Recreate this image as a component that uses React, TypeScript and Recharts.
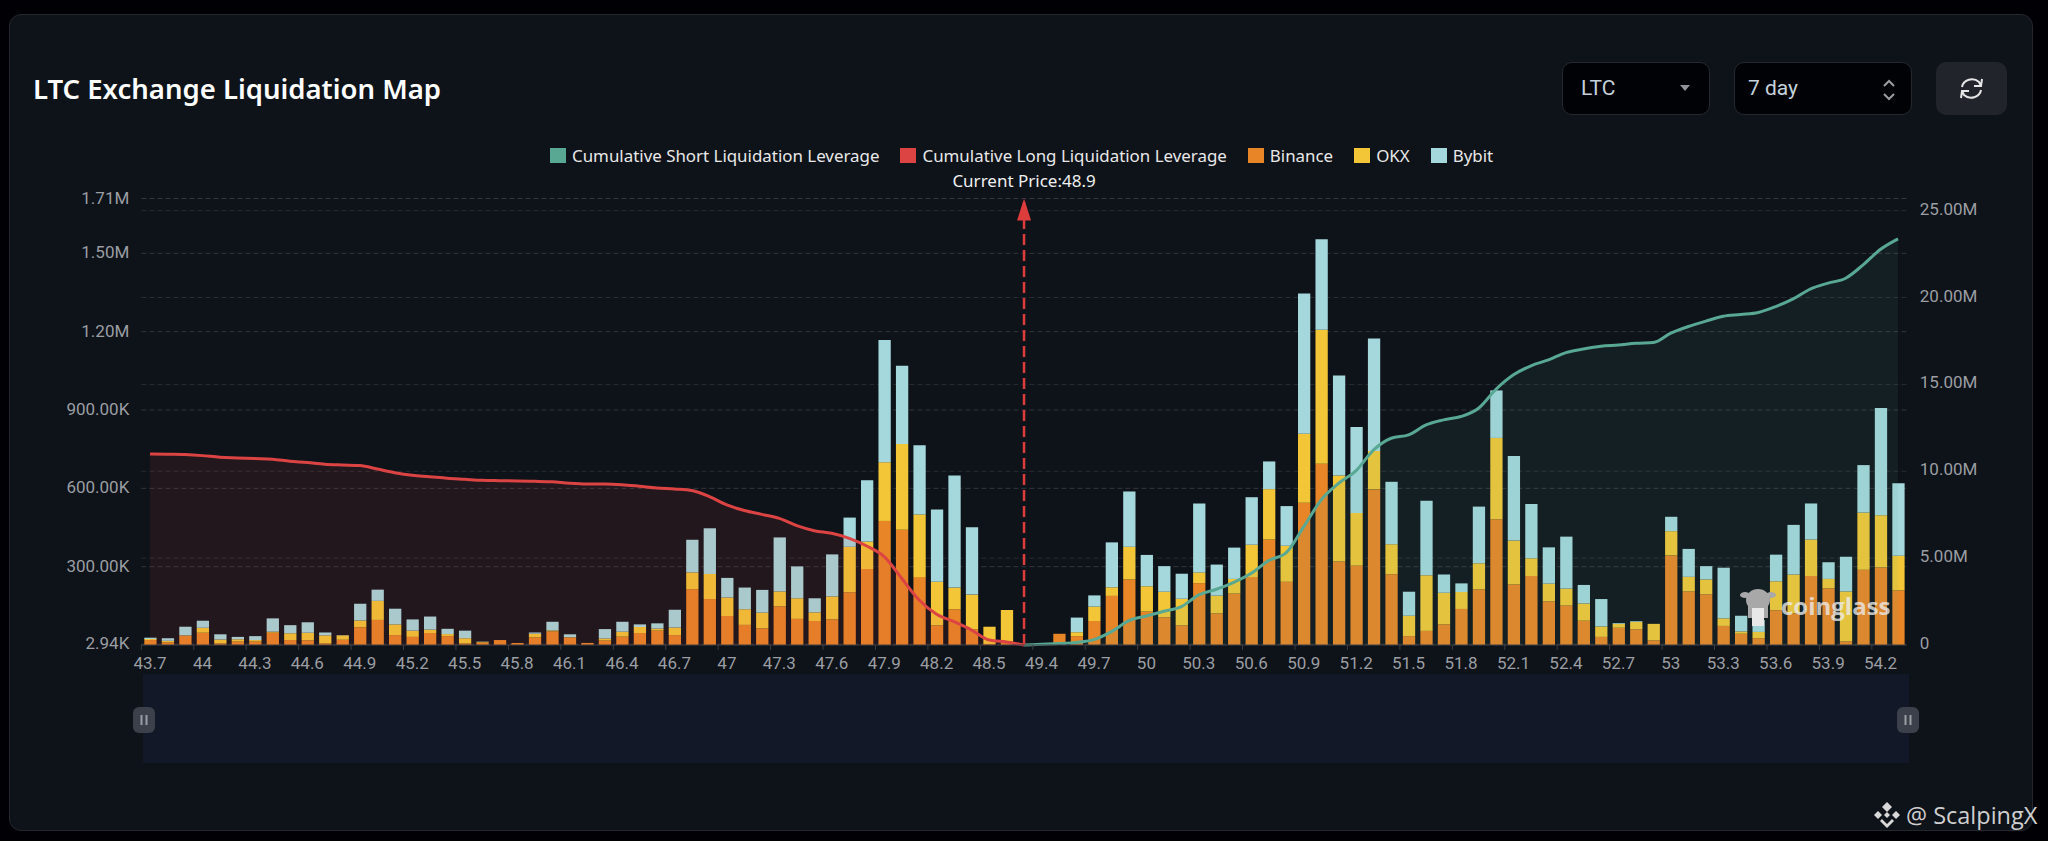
import React from "react";
import {
  ComposedChart,
  Bar,
  Area,
  XAxis,
  YAxis,
  CartesianGrid,
  ReferenceLine,
  Legend,
  Brush,
} from "recharts";

const title = "LTC Exchange Liquidation Map";
const currentPrice = "48.9";

const prices = [
  "43.7","43.8","43.9","44","44.1","44.2","44.3","44.4","44.5","44.6",
  "44.7","44.8","44.9","45","45.1","45.2","45.3","45.4","45.5","45.6",
  "45.7","45.8","45.9","46","46.1","46.2","46.3","46.4","46.5","46.6",
  "46.7","46.8","46.9","47","47.1","47.2","47.3","47.4","47.5","47.6",
  "47.7","47.8","47.9","48","48.1","48.2","48.3","48.4","48.5","48.6",
  "48.9",
  "49.4","49.5","49.6","49.7","49.8","49.9","50","50.1","50.2","50.3",
  "50.4","50.5","50.6","50.7","50.8","50.9","51","51.1","51.2","51.3",
  "51.4","51.5","51.6","51.7","51.8","51.9","52","52.1","52.2","52.3",
  "52.4","52.5","52.6","52.7","52.8","52.9","53","53.1","53.2","53.3",
  "53.4","53.5","53.6","53.7","53.8","53.9","54","54.1","54.2","54.3",
];

// thousands
const binanceK = [
  19,10,36,47,6,13,13,47,19,18,
  6,20,68,96,38,31,46,34,6,9,
  19,8,29,52,29,8,17,32,46,55,
  38,214,176,111,77,64,148,100,92,98,
  202,291,475,441,260,75,137,60,4,13,
  0,0,43,34,92,188,251,128,106,75,
  237,121,197,260,404,242,545,694,320,304,
  596,271,34,54,79,138,213,482,232,264,
  167,151,93,31,66,60,18,343,205,194,
  73,43,26,133,121,264,217,14,288,297,
  209,
];
const okxK = [
  4,6,1,19,15,9,6,4,26,29,
  31,17,26,73,41,24,13,8,20,3,
  0,0,14,4,1,0,8,19,23,8,
  29,64,96,71,60,60,57,79,33,88,
  174,105,225,329,240,167,83,133,66,121,
  0,0,0,15,55,33,125,97,98,102,
  41,68,56,124,193,138,264,513,329,202,
  147,115,78,213,121,65,100,311,168,68,
  68,65,66,40,15,28,63,93,56,57,
  29,9,24,111,149,140,36,191,219,200,
  133,
];
const bybitK = [
  5,10,33,27,20,9,15,51,31,40,
  11,1,64,43,60,43,50,20,29,1,
  0,0,5,33,11,0,36,38,10,20,
  68,125,175,75,83,87,207,122,54,161,
  112,235,468,299,265,277,429,258,0,0,
  0,0,0,56,43,172,212,120,98,96,
  264,119,120,182,106,152,537,347,383,329,
  431,239,92,285,70,33,217,182,324,208,
  139,199,71,105,3,3,0,55,107,51,
  194,60,46,102,190,138,64,133,182,411,
  277,
];

// millions
const cumulativeLongM: (number | null)[] = [
  11.0,10.98,10.96,10.9,10.81,10.77,10.73,10.69,10.58,10.5,
  10.4,10.36,10.33,10.13,9.92,9.77,9.69,9.6,9.54,9.48,
  9.46,9.44,9.42,9.39,9.31,9.27,9.27,9.23,9.14,9.04,
  8.98,8.89,8.54,8.06,7.74,7.52,7.29,6.87,6.58,6.43,
  6.14,5.7,5.09,3.84,2.59,1.77,1.34,0.86,0.29,0.17,
  0,
  null,null,null,null,null,null,null,null,null,null,
  null,null,null,null,null,null,null,null,null,null,
  null,null,null,null,null,null,null,null,null,null,
  null,null,null,null,null,null,null,null,null,null,
  null,null,null,null,null,null,null,null,null,null,
];
const cumulativeShortM: (number | null)[] = [
  null,null,null,null,null,null,null,null,null,null,
  null,null,null,null,null,null,null,null,null,null,
  null,null,null,null,null,null,null,null,null,null,
  null,null,null,null,null,null,null,null,null,null,
  null,null,null,null,null,null,null,null,null,null,
  0,
  0.04,0.08,0.15,0.31,0.77,1.4,1.67,1.94,2.21,2.88,
  3.21,3.61,4.13,4.86,5.32,6.81,8.35,9.31,10.04,11.23,
  11.9,12.09,12.67,12.96,13.15,13.63,14.72,15.55,16.07,16.41,
  16.83,17.04,17.2,17.27,17.37,17.41,17.95,18.33,18.64,18.92,
  19.02,19.14,19.48,19.92,20.5,20.83,21.11,21.88,22.78,23.38,
];

const leftTicks = [2940, 300000, 600000, 900000, 1200000, 1500000, 1710000];
const rightTicks = [0, 5000000, 10000000, 15000000, 20000000, 25000000];

const legendItems = [
  { label: "Cumulative Short Liquidation Leverage", color: "#58a893" },
  { label: "Cumulative Long Liquidation Leverage", color: "#dc4444" },
  { label: "Binance", color: "#e88526" },
  { label: "OKX", color: "#f2c636" },
  { label: "Bybit", color: "#a5d8dc" },
];

const COLORS = {
  short: "#58a893",
  long: "#dc4444",
  binance: "#e88526",
  okx: "#f2c636",
  bybit: "#a5d8dc",
};

const table = prices.map((price, i) => ({
  price,
  binance: binanceK[i] * 1000,
  okx: okxK[i] * 1000,
  bybit: bybitK[i] * 1000,
  long: cumulativeLongM[i] === null ? null : (cumulativeLongM[i] as number) * 1e6,
  short: cumulativeShortM[i] === null ? null : (cumulativeShortM[i] as number) * 1e6,
}));

const AXIS_FONT = "Roboto, sans-serif";
const UI_FONT = "'Noto Sans', sans-serif";

const fmtLeft = (v: number) =>
  v >= 1e6 ? (v / 1e6).toFixed(2) + "M" : (v / 1e3).toFixed(2) + "K";
const fmtRight = (v: number) => (v === 0 ? "0" : (v / 1e6).toFixed(2) + "M");

const PriceTick = (props: any) => {
  const { x, y, payload } = props;
  return (
    <g>
      <line x1={x - 8.74} x2={x - 8.74} y1={y} y2={y + 5} stroke="#3a3d44" />
      <text
        x={x}
        y={y + 18}
        textAnchor="middle"
        dominantBaseline="central"
        fill="#9b9ea3"
        fontFamily={AXIS_FONT}
        fontSize={17}
      >
        {payload.value}
      </text>
    </g>
  );
};

const CurrentPriceLabel = (props: any) => {
  const { x, y } = props.viewBox;
  return (
    <g>
      <polygon points={`${x},${y} ${x - 7},${y + 22} ${x + 7},${y + 22}`} fill="#dc3c3c" />
      <text
        x={x}
        y={y - 18}
        textAnchor="middle"
        dominantBaseline="central"
        fill="#f0f0f0"
        fontFamily={UI_FONT}
        fontSize={17}
      >
        {`Current Price:${currentPrice}`}
      </text>
    </g>
  );
};

const Handle = (props: any) => {
  const cx = props.x + props.width / 2;
  const cy = 720;
  return (
    <g>
      <rect x={cx - 11} y={cy - 13} width={22} height={26} rx={6} fill="#3b404a" />
      <rect x={cx - 3.5} y={cy - 5} width={2} height={10} fill="#9a9da3" />
      <rect x={cx + 1.5} y={cy - 5} width={2} height={10} fill="#9a9da3" />
    </g>
  );
};

const LegendContent = () => (
  <div
    style={{
      position: "absolute",
      left: 550,
      top: 0,
      display: "flex",
      alignItems: "center",
      whiteSpace: "nowrap",
      fontFamily: UI_FONT,
      fontSize: 16.9,
      color: "#e8e8e8",
      height: 0,
    }}
  >
    {legendItems.map((it) => (
      <span key={it.label} style={{ display: "flex", alignItems: "center", marginRight: 21 }}>
        <span
          style={{
            width: 16,
            height: 15,
            background: it.color,
            marginRight: 6,
            display: "inline-block",
          }}
        />
        {it.label}
      </span>
    ))}
  </div>
);

const Box = ({ left, width, children }: any) => (
  <div
    style={{
      position: "absolute",
      left,
      top: 62,
      width,
      height: 53,
      boxSizing: "border-box",
      background: "#010206",
      border: "1px solid #25282e",
      borderRadius: 10,
    }}
  >
    {children}
  </div>
);

const boxText: React.CSSProperties = {
  position: "absolute",
  top: 0,
  lineHeight: "51px",
  fontFamily: "Roboto, sans-serif",
  fontSize: 21,
  color: "#c4d2dc",
};

export default function App() {
  return (
    <div
      style={{
        position: "fixed",
        left: 0,
        top: 0,
        width: 2048,
        height: 841,
        background: "#010105",
        overflow: "hidden",
      }}
    >
      <div
        style={{
          position: "absolute",
          left: 9,
          top: 14,
          width: 2024,
          height: 817,
          boxSizing: "border-box",
          background: "#0e1219",
          border: "1px solid #24272d",
          borderRadius: 12,
        }}
      />
      <div
        style={{
          position: "absolute",
          left: 33,
          top: 69,
          lineHeight: "40px",
          fontFamily: UI_FONT,
          fontSize: 27.5,
          fontWeight: 600,
          color: "#ffffff",
          whiteSpace: "nowrap",
        }}
      >
        {title}
      </div>

      <Box left={1562} width={148}>
        <span style={{ ...boxText, left: 18 }}>LTC</span>
        <svg style={{ position: "absolute", left: 116, top: 22 }} width="12" height="8">
          <polygon points="1,0 11,0 6,6" fill="#8f9399" />
        </svg>
      </Box>
      <Box left={1734} width={178}>
        <span style={{ ...boxText, left: 13 }}>7 day</span>
        <svg style={{ position: "absolute", left: 147, top: 16 }} width="14" height="22">
          <path d="M2 7 L7 2 L12 7 M2 15 L7 20 L12 15" fill="none" stroke="#9a9da3" strokeWidth="2" />
        </svg>
      </Box>
      <div
        style={{
          position: "absolute",
          left: 1936,
          top: 62,
          width: 71,
          height: 53,
          background: "#21242b",
          borderRadius: 10,
        }}
      >
        <svg style={{ position: "absolute", left: 22, top: 13 }} width="27" height="27" viewBox="0 0 27 27">
          <path
            d="M4 12 A10 9 0 0 1 21 7 L23 11 M23 15 A10 9 0 0 1 6 20 L4 16 M16 11 L23 11 L24 4 M11 16 L4 16 L3 23"
            fill="none"
            stroke="#e6e6e6"
            strokeWidth="2"
          />
        </svg>
      </div>

      <div style={{ position: "absolute", left: 0, top: 0 }}>
        <ComposedChart
          width={2048}
          height={841}
          data={table}
          barSize={12.3}
          margin={{ top: 198.5, right: 0, bottom: 77, left: 0 }}
        >
          <CartesianGrid
            yAxisId="left"
            horizontal
            vertical={false}
            stroke="#33363c"
            strokeDasharray="5 3"
            syncWithTicks
          />
          <CartesianGrid
            yAxisId="right"
            horizontal
            vertical={false}
            stroke="#2a2d32"
            strokeDasharray="5 3"
            syncWithTicks
          />
          <XAxis
            dataKey="price"
            interval={2}
            height={30}
            tickSize={0}
            tickMargin={0}
            tickLine={false}
            axisLine={{ stroke: "#3a3d44" }}
            tick={<PriceTick />}
          />
          <YAxis
            yAxisId="left"
            orientation="left"
            width={141.3}
            domain={[2940, 1710000]}
            ticks={leftTicks}
            interval={0}
            tickFormatter={fmtLeft}
            axisLine={false}
            tickLine={false}
            tickSize={0}
            tickMargin={12}
            tick={{ fill: "#9b9ea3", fontSize: 17, fontFamily: AXIS_FONT, dy: -1 }}
          />
          <YAxis
            yAxisId="right"
            orientation="right"
            width={141.2}
            domain={[0, 25700000]}
            ticks={rightTicks}
            interval={0}
            tickFormatter={fmtRight}
            axisLine={false}
            tickLine={false}
            tickSize={0}
            tickMargin={13}
            tick={{ fill: "#9b9ea3", fontSize: 17, fontFamily: AXIS_FONT, dy: -2 }}
          />
          <Legend
            verticalAlign="top"
            content={<LegendContent />}
            wrapperStyle={{ position: "absolute", top: 155.5, left: 0, height: 0, width: 0 }}
          />
          <Bar yAxisId="left" dataKey="binance" name="Binance" stackId="ex" fill={COLORS.binance} isAnimationActive={false} />
          <Bar yAxisId="left" dataKey="okx" name="OKX" stackId="ex" fill={COLORS.okx} isAnimationActive={false} />
          <Bar yAxisId="left" dataKey="bybit" name="Bybit" stackId="ex" fill={COLORS.bybit} isAnimationActive={false} />
          <Area
            yAxisId="right"
            type="monotone"
            dataKey="long"
            name="Cumulative Long Liquidation Leverage"
            stroke={COLORS.long}
            strokeWidth={3}
            fill={COLORS.long}
            fillOpacity={0.1}
            dot={false}
            zIndex={350}
            isAnimationActive={false}
          />
          <Area
            yAxisId="right"
            type="monotone"
            dataKey="short"
            name="Cumulative Short Liquidation Leverage"
            stroke={COLORS.short}
            strokeWidth={3}
            fill={COLORS.short}
            fillOpacity={0.09}
            dot={false}
            zIndex={350}
            isAnimationActive={false}
          />
          <ReferenceLine
            yAxisId="left"
            x={currentPrice}
            stroke="#dc3c3c"
            strokeWidth={2.5}
            strokeDasharray="11 5"
            label={CurrentPriceLabel}
          />
          <Brush
            dataKey="price"
            x={143}
            y={674}
            width={1766}
            height={89}
            fill="#121827"
            stroke="transparent"
            travellerWidth={2}
            traveller={Handle}
          />
        </ComposedChart>
      </div>

      <div
        style={{
          position: "absolute",
          left: 1781,
          top: 584,
          lineHeight: "44px",
          fontFamily: "'Open Sans', sans-serif",
          fontSize: 24,
          fontWeight: 700,
          color: "rgba(235,235,235,0.8)",
          whiteSpace: "nowrap",
        }}
      >
        coinglass
      </div>
      <svg style={{ position: "absolute", left: 1740, top: 586 }} width="36" height="42" viewBox="0 0 36 42">
        <ellipse cx="18" cy="14" rx="12" ry="11" fill="#a8a8a8" />
        <ellipse cx="5" cy="9" rx="5" ry="3" fill="#a8a8a8" />
        <ellipse cx="31" cy="9" rx="5" ry="3" fill="#a8a8a8" />
        <rect x="8" y="20" width="20" height="12" fill="#a8a8a8" />
        <rect x="12" y="22" width="12" height="18" fill="#e8e8e8" />
      </svg>

      <svg style={{ position: "absolute", left: 1873, top: 801 }} width="28" height="28" viewBox="0 0 28 28">
        <g fill="#d8d8d8">
          <polygon points="14,1 19,6 14,11 9,6" />
          <polygon points="5,10 9,14 5,18 1,14" />
          <polygon points="23,10 27,14 23,18 19,14" />
          <polygon points="14,11 17,14 14,17 11,14" />
          <polygon points="9,18 14,23 19,18 21,20 14,27 7,20" />
        </g>
      </svg>
      <div
        style={{
          position: "absolute",
          left: 1906,
          top: 798,
          lineHeight: "34px",
          fontFamily: "'Open Sans', sans-serif",
          fontSize: 23.5,
          color: "#cfcfcf",
          whiteSpace: "nowrap",
        }}
      >
        @ ScalpingX
      </div>
    </div>
  );
}
